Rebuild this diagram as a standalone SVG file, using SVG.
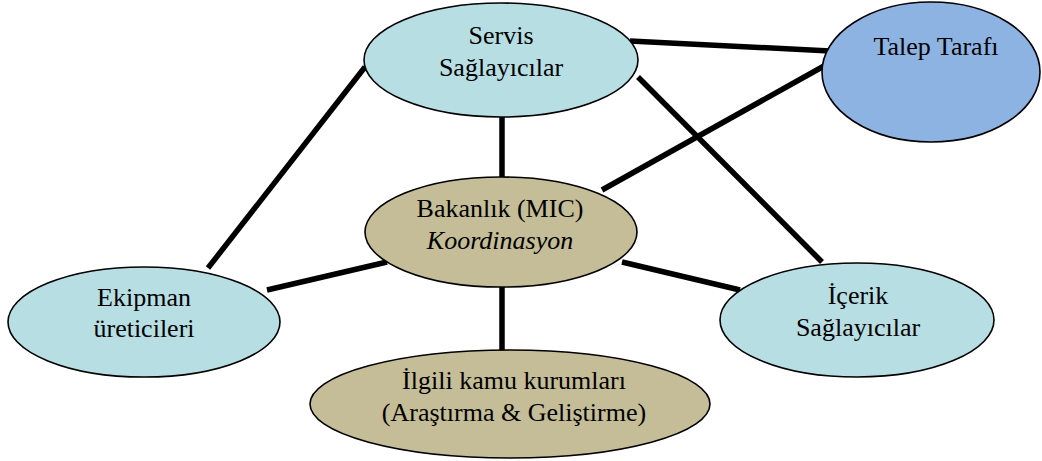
<svg xmlns="http://www.w3.org/2000/svg" width="1042" height="461" viewBox="0 0 1042 461">
<style>
.n{stroke:#000;stroke-width:1.6}
.blue{fill:#b7dee3}
.dark{fill:#8db3e2}
.tan{fill:#c4bd97}
text{font-family:'Liberation Serif','Times New Roman','DejaVu Serif',serif;font-size:26px;fill:#000;text-anchor:middle}
.c line{stroke:#000;stroke-width:5.5}
</style>
<rect width="1042" height="461" fill="#fff"/>
<g id="connectors" class="c">
<line x1="630" y1="41" x2="830" y2="51"/>
<line x1="602" y1="190" x2="824" y2="66"/>
<line x1="638" y1="77" x2="822" y2="262"/>
<line x1="365" y1="67" x2="208" y2="268"/>
<line x1="502" y1="115" x2="502" y2="179"/>
<line x1="387" y1="262" x2="267" y2="290"/>
<line x1="622" y1="262" x2="740" y2="290"/>
<line x1="502" y1="286" x2="502" y2="352"/>
</g>
<g id="servis">
<ellipse class="n blue" cx="501" cy="60" rx="137" ry="57"/>
<text x="501" y="44">Servis</text>
<text x="501" y="76">Sağlayıcılar</text>
</g>
<g id="talep">
<ellipse class="n dark" cx="931" cy="72" rx="109" ry="70"/>
<text x="936" y="55">Talep Tarafı</text>
</g>
<g id="bakanlik">
<ellipse class="n tan" cx="501" cy="232" rx="136" ry="55"/>
<text x="500" y="217">Bakanlık (MIC)</text>
<text x="500" y="249" font-style="italic">Koordinasyon</text>
</g>
<g id="ekipman">
<ellipse class="n blue" cx="144" cy="322" rx="136" ry="55"/>
<text x="144" y="306">Ekipman</text>
<text x="144" y="337">üreticileri</text>
</g>
<g id="icerik">
<ellipse class="n blue" cx="857" cy="320" rx="137" ry="57"/>
<text x="858" y="304">İçerik</text>
<text x="858" y="336">Sağlayıcılar</text>
</g>
<g id="ilgili">
<ellipse class="n tan" cx="510" cy="404" rx="200" ry="54"/>
<text x="514" y="389">İlgili kamu kurumları</text>
<text x="514" y="421">(Araştırma &amp; Geliştirme)</text>
</g>
</svg>
